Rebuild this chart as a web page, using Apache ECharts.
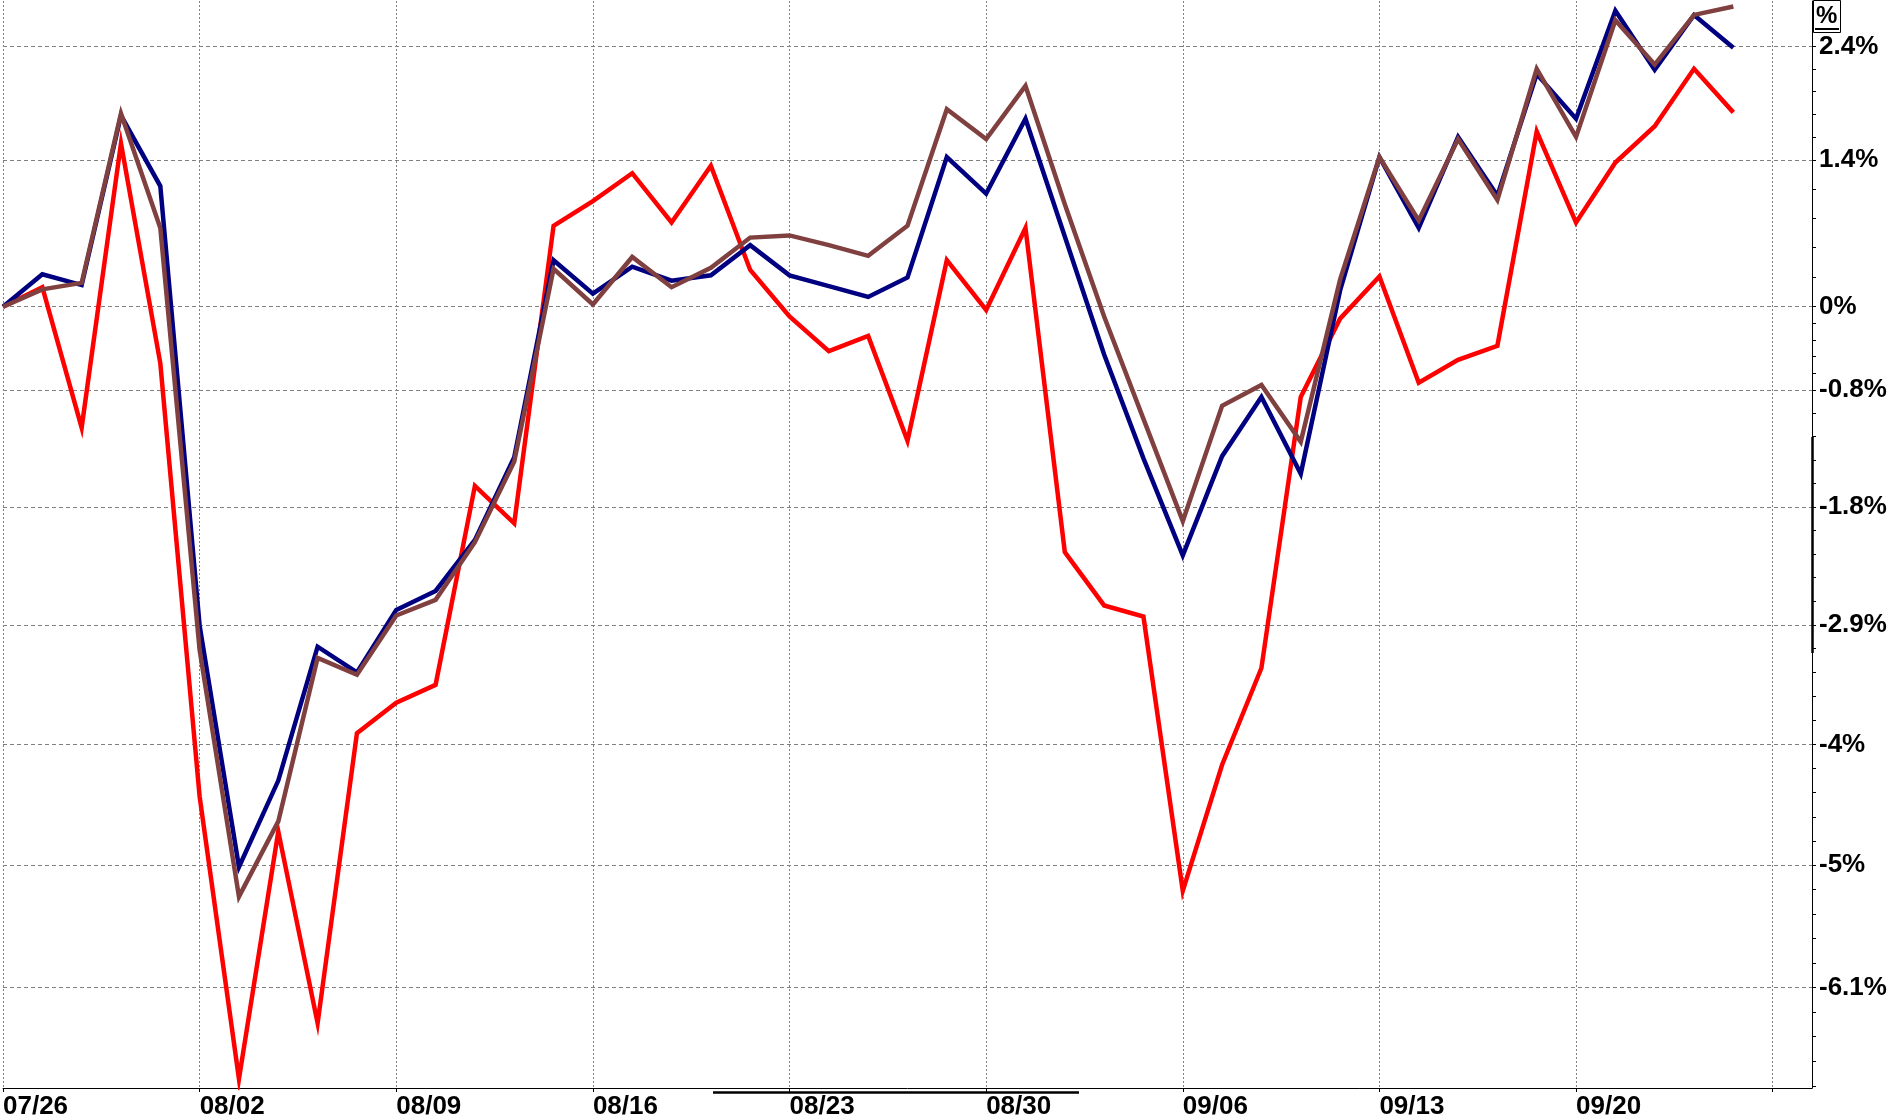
<!DOCTYPE html>
<html><head><meta charset="utf-8">
<script src="https://cdn.jsdelivr.net/npm/echarts@6/dist/echarts.min.js"></script>
<style>html,body{margin:0;padding:0;background:#fff}#c{width:1890px;height:1120px}</style>
</head><body><div id="c"></div>
<script>
// Trading days (weekdays) shown on the axis
const categories = [
  '07/26','07/27','07/28','07/29','07/30',
  '08/02','08/03','08/04','08/05','08/06',
  '08/09','08/10','08/11','08/12','08/13',
  '08/16','08/17','08/18','08/19','08/20',
  '08/23','08/24','08/25','08/26','08/27',
  '08/30','08/31','09/01','09/02','09/03',
  '09/06','09/07','09/08','09/09','09/10',
  '09/13','09/14','09/15','09/16','09/17',
  '09/20','09/21','09/22','09/23','09/24',
  '09/27','09/28'
];
// Percent change series
const navySeries = [
  0, 0.30, 0.20, 1.78, 1.12,
  -2.90, -5.04, -4.28, -3.09, -3.32,
  -2.76, -2.59, -2.13, -1.38, 0.43,
  0.12, 0.37, 0.24, 0.29, 0.57,
  0.29, 0.19, 0.09, 0.27, 1.39,
  1.05, 1.75, 0.65, -0.44, -1.39,
  -2.27, -1.37, -0.83, -1.53, 0.15,
  1.39, 0.73, 1.58, 1.03, 2.17,
  1.75, 2.77, 2.21, 2.73, 2.42
];
const brownSeries = [
  0, 0.16, 0.22, 1.80, 0.73,
  -3.12, -5.30, -4.64, -3.19, -3.34,
  -2.81, -2.67, -2.15, -1.42, 0.35,
  0.02, 0.46, 0.18, 0.36, 0.64,
  0.66, 0.57, 0.47, 0.75, 1.84,
  1.56, 2.06, 0.95, -0.09, -1.03,
  -1.96, -0.91, -0.72, -1.24, 0.25,
  1.39, 0.80, 1.56, 0.99, 2.22,
  1.58, 2.68, 2.26, 2.73, 2.81
];
const redSeries = [
  0, 0.18, -1.11, 1.52, -0.52,
  -4.42, -6.88, -4.73, -6.40, -3.86,
  -3.59, -3.43, -1.64, -1.98, 0.75,
  0.98, 1.24, 0.78, 1.31, 0.34,
  -0.09, -0.41, -0.27, -1.23, 0.43,
  -0.03, 0.73, -2.24, -2.72, -2.82,
  -5.25, -4.14, -3.28, -0.83, -0.11,
  0.28, -0.70, -0.49, -0.36, 1.63,
  0.78, 1.34, 1.68, 2.22, 1.81
];
// Y axis ticks (percent) and their labels
const yTickValues = [2.43, 1.365, 0, -0.765, -1.83, -2.895, -3.96, -5.025, -6.09];
const yTickLabels = ['2.4%', '1.4%', '0%', '-0.8%', '-1.8%', '-2.9%', '-4%', '-5%', '-6.1%'];
const yMinPct = -6.958;
const yMaxPct = 2.862;

// semi-log (ratio) price scale
const toAxis = p => 100 * Math.log(1 + p / 100);

const majorV = yTickValues.map(toAxis);
const minorPct = [];
const regStep = (yTickValues[0] - yTickValues[1]) / 5;
for (let p = yTickValues[0] + regStep; p < yMaxPct; p += regStep) minorPct.push(p);
for (let k = 0; k < yTickValues.length - 1; k++) {
  const a = yTickValues[k], b = yTickValues[k + 1];
  for (let j = 1; j < 5; j++) minorPct.push(a + (b - a) * j / 5);
}
for (let p = yTickValues[yTickValues.length - 1] - regStep; p > yMinPct; p -= regStep) minorPct.push(p);
const allTickV = majorV.concat(minorPct.map(toAxis));

const FONT = "'Liberation Sans', Arial, sans-serif";
const mkData = arr => arr.map(toAxis);

const chart = echarts.init(document.getElementById('c'), null, {renderer: 'canvas'});
const isMonday = i => i % 5 === 0;
const LW = 4.5;
const lineSt = c => ({color: c, width: LW, join: 'miter', miterLimit: 20, cap: 'butt'});
const frame = {color: '#000', width: 1, type: 'solid'};

chart.setOption({
  animation: false,
  backgroundColor: '#ffffff',
  grid: {left: 2, right: 78, top: 1, bottom: 28, containLabel: false},
  xAxis: {
    type: 'category',
    data: categories,
    boundaryGap: false,
    axisLine: {show: true, onZero: false, lineStyle: {color: '#000', width: 1}},
    axisTick: {show: true, length: 4, interval: (i) => isMonday(i), lineStyle: {color: '#000'}},
    axisLabel: {
      show: true, interval: (i) => isMonday(i) && i < 45,
      align: 'left', margin: 6,
      fontFamily: FONT, fontWeight: 'bold', fontSize: 26, color: '#000'
    },
    splitLine: {show: true, interval: (i) => isMonday(i),
      lineStyle: {color: '#808080', width: 1, type: [2, 2]}}
  },
  yAxis: {
    type: 'value',
    position: 'right',
    min: toAxis(yMinPct),
    max: toAxis(yMaxPct),
    axisLine: {show: true, onZero: false, lineStyle: {color: '#000', width: 1}},
    axisTick: {show: true, length: 4, customValues: allTickV, lineStyle: {color: '#000'}},
    axisLabel: {
      show: true, customValues: majorV, margin: 7,
      fontFamily: FONT, fontWeight: 'bold', fontSize: 26, color: '#000',
      formatter: (v) => {
        let best = 0, bd = Infinity;
        majorV.forEach((m, i) => { const d = Math.abs(m - v); if (d < bd) { bd = d; best = i; } });
        return yTickLabels[best];
      }
    },
    splitLine: {show: false}
  },
  series: [
    {
      name: 'Red', type: 'line', data: mkData(redSeries),
      showSymbol: false, symbol: 'none',
      lineStyle: lineSt('#ff0000'), itemStyle: {color: '#ff0000'},
      markLine: {
        silent: true, symbol: 'none', z: 1, animation: false, precision: 10,
        label: {show: false},
        lineStyle: {color: '#808080', width: 1, type: [4, 3]},
        data: majorV.map(v => ({yAxis: v}))
          .concat([
            {yAxis: toAxis(yMaxPct), lineStyle: frame},
            {xAxis: categories.length - 1, lineStyle: frame}
          ])
      }
    },
    {
      name: 'Navy', type: 'line', data: mkData(navySeries),
      showSymbol: false, symbol: 'none',
      lineStyle: lineSt('#000080'), itemStyle: {color: '#000080'}
    },
    {
      name: 'Brown', type: 'line', data: mkData(brownSeries),
      showSymbol: false, symbol: 'none',
      lineStyle: lineSt('#804040'), itemStyle: {color: '#804040'}
    }
  ],
  graphic: [
    {type: 'rect', shape: {x: 1813.5, y: 0.5, width: 27, height: 32},
      style: {fill: '#fff', stroke: '#000', lineWidth: 1}, z: 10},
    {type: 'text', x: 1816, y: 4,
      style: {text: '%', fontFamily: FONT, fontWeight: 'bold', fontSize: 24, fill: '#000'}, z: 11},
    {type: 'line', shape: {x1: 1815, y1: 29, x2: 1839, y2: 29},
      style: {stroke: '#000', lineWidth: 2}, z: 11},
    {type: 'line', shape: {x1: 1812.5, y1: 437, x2: 1812.5, y2: 653},
      style: {stroke: '#000', lineWidth: 2.5}, z: 10},
    {type: 'line', shape: {x1: 713, y1: 1092.5, x2: 1079, y2: 1092.5},
      style: {stroke: '#000', lineWidth: 2.5}, z: 10}
  ]
});
</script>
</body></html>
